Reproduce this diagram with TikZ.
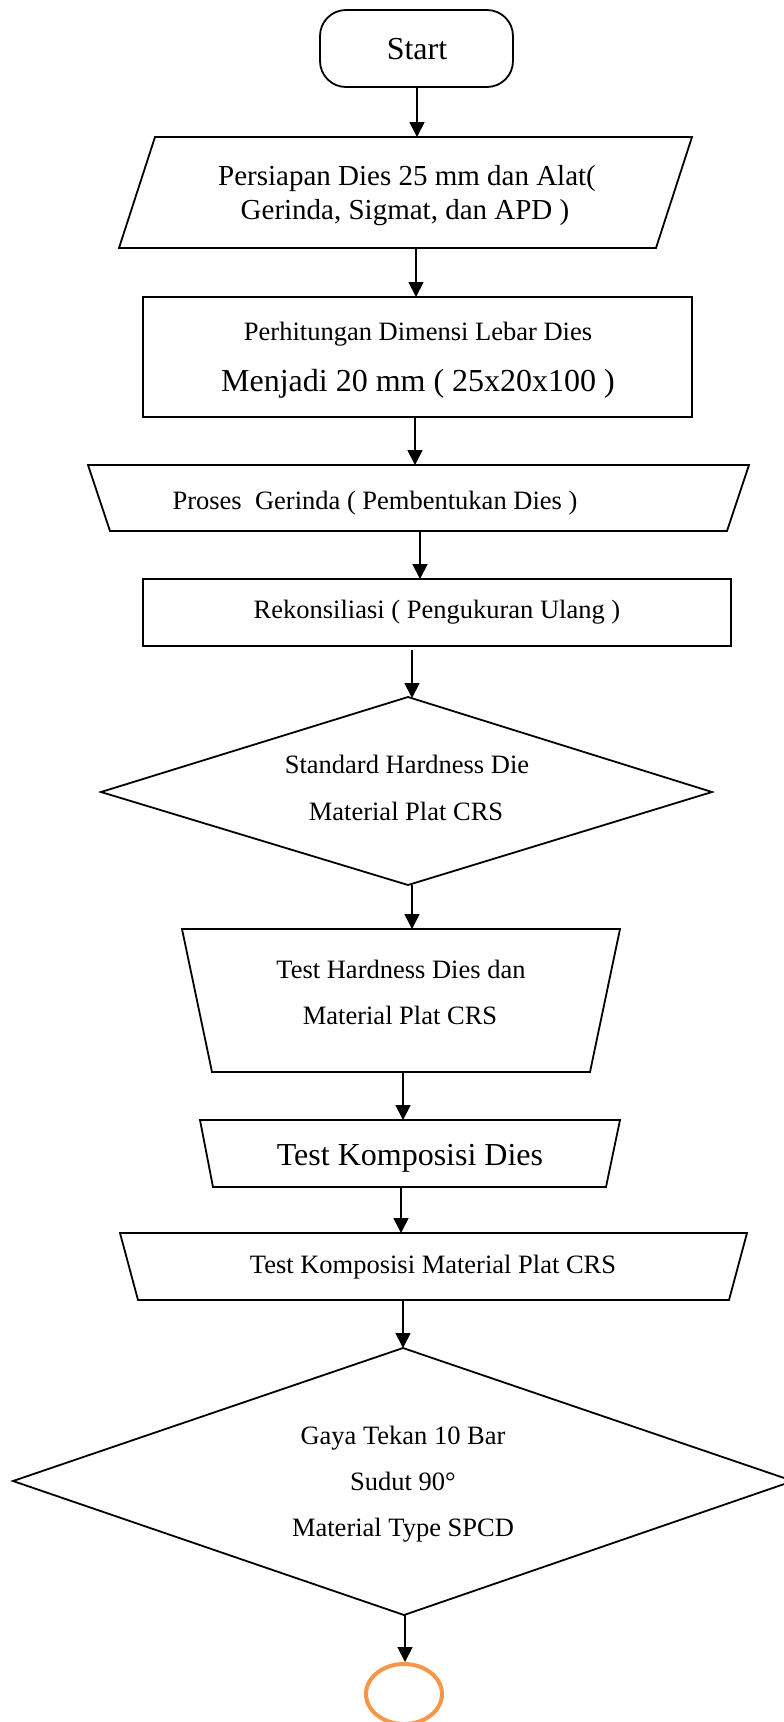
\documentclass[tikz,border=0pt]{standalone}
\usepackage{fontspec}
\setmainfont{Liberation Serif}
\usetikzlibrary{arrows.meta}
\definecolor{endorange}{HTML}{F79646}
\begin{document}
\begin{tikzpicture}[x=1pt,y=-1pt,
  box/.style={draw=black, line width=1.8pt, line join=miter},
  conn/.style={draw=black, line width=1.8pt, -{Triangle[length=15pt,width=15pt]}},
  txt/.style={anchor=base, inner sep=0pt, font=\fontsize{26.5}{30}\selectfont},
  txtb/.style={anchor=base, inner sep=0pt, font=\fontsize{32}{36}\selectfont},
  txtm/.style={anchor=base, inner sep=0pt, font=\fontsize{29}{33}\selectfont}]
\useasboundingbox (0,0) rectangle (784,1722);

% Start
\draw[box, rounded corners=26pt] (320,10) rectangle (513,87);
\node[txtb] (tstart) at (417,59) {Start};

% Parallelogram
\draw[box] (155,137) -- (692,137) -- (656,248) -- (119,248) -- cycle;
\node[txtm] (tpara1) at (407,185) {Persiapan Dies 25 mm dan Alat(};
\node[txtm] (tpara2) at (405,219) {Gerinda, Sigmat, dan APD )};

% Rectangle 1
\draw[box] (143,297) rectangle (692,417);
\node[txt] (trect1a) at (418,340) {Perhitungan Dimensi Lebar Dies};
\node[txtb] (trect1b) at (418,391) {Menjadi 20 mm ( 25x20x100 )};

% Trapezoid 1
\draw[box] (88,465) -- (749,465) -- (727,531) -- (110,531) -- cycle;
\node[txt] (ttrap1) at (375,509) {Proses\ \ Gerinda ( Pembentukan Dies )};

% Rectangle 2
\draw[box] (143,579) rectangle (731,646);
\node[txt] (trect2) at (437,618) {Rekonsiliasi ( Pengukuran Ulang )};

% Diamond 1
\draw[box] (408,697) -- (712,792) -- (408,885) -- (101,792) -- cycle;
\node[txt] (tdia1a) at (407,773) {Standard Hardness Die};
\node[txt] (tdia1b) at (406,820) {Material Plat CRS};

% Trapezoid 2
\draw[box] (182,929) -- (620,929) -- (590,1072) -- (212,1072) -- cycle;
\node[txt] (ttrap2a) at (401,978) {Test Hardness Dies dan};
\node[txt] (ttrap2b) at (400,1024) {Material Plat CRS};

% Trapezoid 3
\draw[box] (200,1120) -- (620,1120) -- (606,1187) -- (213,1187) -- cycle;
\node[txtb] (ttrap3) at (410,1165) {Test Komposisi Dies};

% Trapezoid 4
\draw[box] (120,1233) -- (747,1233) -- (729,1300) -- (138,1300) -- cycle;
\node[txt] (ttrap4) at (433,1273) {Test Komposisi Material Plat CRS};

% Diamond 2
\draw[box] (403,1348) -- (793,1481) -- (404,1615) -- (13,1481) -- cycle;
\node[txt] (tdia2a) at (403,1444) {Gaya Tekan 10 Bar};
\node[txt] (tdia2b) at (403,1490) {Sudut 90°};
\node[txt] (tdia2c) at (403,1536) {Material Type SPCD};

% End connector
\draw[draw=endorange, line width=4pt] (404,1694) ellipse [x radius=38pt, y radius=30pt];

% connector coordinates
\coordinate (c1s) at (417,87);   \coordinate (c1e) at (417,137);
\coordinate (c2s) at (416,248);  \coordinate (c2e) at (416,297);
\coordinate (c3s) at (415,417);  \coordinate (c3e) at (415,465);
\coordinate (c4s) at (420,531);  \coordinate (c4e) at (420,579);
\coordinate (c5s) at (412,650);  \coordinate (c5e) at (412,698);
\coordinate (c6s) at (412,885);  \coordinate (c6e) at (412,929);
\coordinate (c7s) at (403,1072); \coordinate (c7e) at (403,1120);
\coordinate (c8s) at (401,1187); \coordinate (c8e) at (401,1233);
\coordinate (c9s) at (403,1300); \coordinate (c9e) at (403,1348);
\coordinate (c10s) at (405,1615); \coordinate (c10e) at (405,1662);

\foreach \i in {1,...,10} {\draw[conn] (c\i s) -- (c\i e);}
\end{tikzpicture}
\end{document}
